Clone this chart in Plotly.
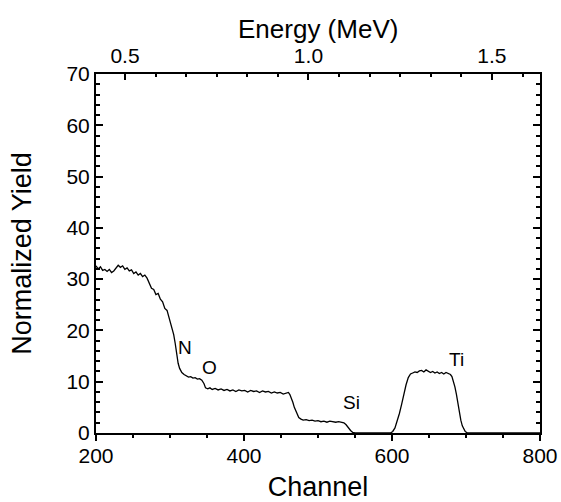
import plotly.graph_objects as go

# Channel / normalized-yield pairs
channel = [200, 203, 206, 209, 212, 215, 218, 221, 224, 227, 230, 233, 236, 239, 242, 245, 248, 251, 254, 257,
           260, 263, 266, 269, 272, 275, 278, 281, 284, 287, 290, 293, 296, 299, 302, 305, 307, 309, 311, 313,
           316, 319, 322, 325, 328, 331, 334, 337, 340, 343, 346, 348, 351, 354, 357, 361, 365, 369, 373, 377,
           381, 385, 389, 393, 397, 401, 405, 409, 413, 417, 421, 425, 429, 433, 437, 441, 445, 449, 453, 457,
           460, 462, 464, 466, 468, 470, 472, 474, 477, 480, 484, 488, 492, 496, 500, 504, 508, 512, 516, 520,
           524, 528, 532, 535, 538, 541, 544, 547, 550, 598, 601, 604, 607, 610, 613, 616, 619, 622, 625, 628,
           631, 634, 637, 640, 643, 646, 649, 652, 655, 658, 661, 664, 667, 670, 673, 676, 679, 681, 683, 685,
           687, 689, 691, 693, 695, 697, 699, 702, 800]
yield_ = [32.6, 32.0, 32.4, 31.7, 31.9, 31.5, 31.9, 31.3, 31.6, 32.1, 32.7, 32.3, 32.6, 31.9, 32.2, 31.6, 31.8, 31.1, 31.4, 30.8,
          31.1, 30.5, 30.8, 30.2, 29.3, 28.2, 28.0, 27.0, 27.2, 26.1, 25.6, 24.3, 23.9, 22.4, 21.2, 19.2, 17.5, 15.5, 13.6, 12.6,
          11.8, 11.4, 11.2, 10.9, 11.0, 10.7, 10.8, 10.5, 10.6, 10.3, 9.6, 8.8, 8.6, 8.8, 8.5, 8.7, 8.4, 8.6, 8.3, 8.5,
          8.2, 8.4, 8.1, 8.4, 8.2, 8.3, 8.0, 8.3, 8.1, 8.2, 7.9, 8.2, 8.0, 8.1, 7.8, 8.0, 7.8, 7.9, 7.6, 7.8,
          7.9, 7.5, 6.9, 6.0, 5.0, 4.3, 3.6, 3.0, 2.7, 2.5, 2.6, 2.4, 2.5, 2.3, 2.4, 2.2, 2.3, 2.1, 2.3, 2.2,
          2.1, 2.2, 2.0, 2.0, 1.6, 1.0, 0.5, 0.1, 0.0, 0.0, 0.3, 1.0, 2.2, 3.8, 5.6, 7.6, 9.4, 10.8, 11.5, 11.7,
          11.9, 11.8, 12.1, 12.2, 11.9, 12.3, 12.0, 11.8, 12.0, 11.7, 11.9, 11.6, 11.8, 11.5, 11.8, 11.6, 11.4, 11.0, 10.2, 9.0,
          7.6, 5.8, 4.0, 2.5, 1.4, 0.7, 0.3, 0.0, 0.0]

# Element edge labels
labels = ["N", "O", "Si", "Ti"]
label_ch = [320, 353, 545, 687]
label_y = [16.6, 12.7, 6.0, 14.3]

# Energy (top) axis
energy_range = [0.421, 1.631]
energy_ticks = [0.5, 1.0, 1.5]
energy_ticktext = ["0.5", "1.0", "1.5"]

FONT = "Liberation Sans, Arial, Helvetica, sans-serif"

fig = go.Figure()
fig.add_trace(go.Scatter(x=channel, y=yield_, mode="lines",
                         line=dict(color="black", width=1.3), showlegend=False, hoverinfo="skip"))
fig.add_trace(go.Scatter(x=energy_range, y=[0, 0], xaxis="x2", mode="lines",
                         line=dict(width=0), opacity=0, showlegend=False, hoverinfo="skip"))

for t, cx, cy in zip(labels, label_ch, label_y):
    fig.add_annotation(x=cx, y=cy, text=t, showarrow=False,
                       font=dict(family=FONT, size=19, color="black"))

fig.add_annotation(x=0.5, y=1, xref="paper", yref="paper", yshift=45, xanchor="center", yanchor="middle",
                   text="Energy (MeV)", showarrow=False, font=dict(family=FONT, size=26, color="black"))

fig.update_layout(
    width=561, height=502,
    margin=dict(l=96, r=21, t=74, b=69),
    paper_bgcolor="white", plot_bgcolor="white",
    font=dict(family=FONT, color="black"),
    xaxis=dict(range=[200, 800], tickvals=[200, 400, 600, 800], showgrid=False, zeroline=False,
               showline=True, linecolor="black", linewidth=2, ticks="outside", ticklen=6, tickwidth=2,
               tickcolor="black", tickfont=dict(size=21), automargin=False, ticklabelstandoff=-3,
               minor=dict(dtick=50, tick0=200, ticks="outside", ticklen=3, tickwidth=1.5, tickcolor="black"),
               title=dict(text="Channel", font=dict(size=27), standoff=35)),
    xaxis2=dict(range=energy_range, overlaying="x", side="top", tickvals=energy_ticks, ticktext=energy_ticktext,
                showgrid=False, zeroline=False, showline=True, linecolor="black", linewidth=2,
                ticks="inside", ticklen=6, tickwidth=2, tickcolor="black", tickfont=dict(size=21),
                ticklabelstandoff=1, automargin=False,
                minor=dict(dtick=0.5 / 6, tick0=0.5, ticks="inside", ticklen=3, tickwidth=1.5, tickcolor="black")),
    yaxis=dict(range=[0, 70], dtick=10, showgrid=False, zeroline=False,
               showline=True, linecolor="black", linewidth=2, mirror="ticks",
               ticks="inside", ticklen=7, tickwidth=2, tickcolor="black", tickfont=dict(size=21),
               automargin=False,
               minor=dict(dtick=2, ticks="inside", ticklen=4, tickwidth=1.5, tickcolor="black"),
               title=dict(text="Normalized Yield", font=dict(size=27), standoff=27)),
)

# remove the browser's default 8px body margin so the figure fills the window exactly
fig.write_html("out.html", config={"displayModeBar": False},
               post_script="document.body.style.margin='0';")
